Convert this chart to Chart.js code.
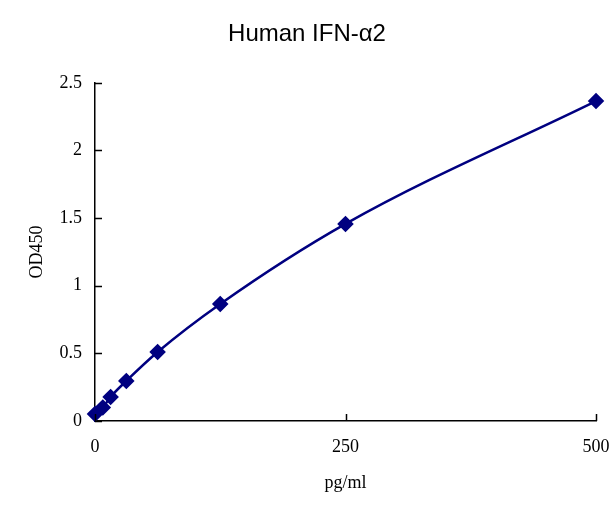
<!DOCTYPE html>
<html>
<head>
<meta charset="utf-8">
<script src="https://cdn.jsdelivr.net/npm/chart.js@4/dist/chart.umd.min.js"></script>
<style>
  html, body { margin: 0; padding: 0; background: #fff; }
  #wrap { width: 614px; height: 520px; position: relative; }
</style>
</head>
<body>
<div id="wrap"><canvas id="chart"></canvas></div>
<script>
"use strict";

/* ---- Data ---- */
const concentrations = [0, 7.8, 15.6, 31.25, 62.5, 125, 250, 500];
const odValues       = [0.052, 0.10, 0.178, 0.296, 0.51, 0.865, 1.457, 2.365];
const xTicks         = [0, 250, 500];
const yTicks         = [0, 0.5, 1, 1.5, 2, 2.5];

const NAVY  = "#000080";
const SERIF = "'Liberation Serif', 'DejaVu Serif', serif";

const points = concentrations.map((x, i) => ({ x, y: odValues[i] }));

/* ticks drawn pointing into the plot area, as in the original figure */
const innerTicks = {
  id: "innerTicks",
  afterDraw(chart) {
    const { ctx, chartArea: a, scales: { x, y } } = chart;
    ctx.save();
    ctx.strokeStyle = "#000";
    ctx.lineWidth = 1.5;
    ctx.beginPath();
    x.ticks.forEach(t => {
      const px = Math.round(x.getPixelForValue(t.value)) + 0.5;
      ctx.moveTo(px, a.bottom);
      ctx.lineTo(px, a.bottom - 7);
    });
    y.ticks.forEach(t => {
      const py = Math.round(y.getPixelForValue(t.value)) + 0.5;
      ctx.moveTo(a.left, py);
      ctx.lineTo(a.left + 7, py);
    });
    ctx.stroke();
    ctx.restore();
  },
};

new Chart(document.getElementById("chart"), {
  type: "scatter",
  data: {
    datasets: [{
      data: points,
      showLine: true,
      borderColor: NAVY,
      backgroundColor: NAVY,
      borderWidth: 2.5,
      cubicInterpolationMode: "monotone",
      pointStyle: "rectRot",
      pointRadius: 6.5,
      pointHoverRadius: 6.5,
      clip: false,
    }],
  },
  options: {
    responsive: true,
    maintainAspectRatio: false,
    animation: false,
    layout: { padding: { left: 0, right: 0, top: 0, bottom: 0 } },
    plugins: {
      legend: { display: false },
      tooltip: { enabled: false },
      title: {
        display: true,
        text: "Human IFN-α2",
        color: "#000",
        font: { family: "'Liberation Sans', Arial, sans-serif", size: 24, weight: "normal" },
        padding: { top: 20, bottom: 34 },
      },
    },
    scales: {
      x: {
        type: "linear",
        min: 0,
        max: 500,
        afterBuildTicks: s => { s.ticks = xTicks.map(v => ({ value: v })); },
        afterFit: s => { s.height = 99; s.paddingRight = 18; },
        grid: { drawOnChartArea: false, drawTicks: false },
        border: { color: "#000", width: 1.5 },
        ticks: { color: "#000", padding: 15, font: { family: SERIF, size: 18 }, callback: v => String(v) },
        title: {
          display: true,
          text: "pg/ml",
          color: "#000",
          font: { family: SERIF, size: 18 },
          padding: { top: 0, bottom: 26 },
        },
      },
      y: {
        type: "linear",
        min: 0,
        max: 2.5,
        afterBuildTicks: s => { s.ticks = yTicks.map(v => ({ value: v })); },
        afterFit: s => { s.width = 95; },
        grid: { drawOnChartArea: false, drawTicks: false },
        border: { color: "#000", width: 1.5 },
        ticks: { color: "#000", padding: 13, font: { family: SERIF, size: 18 }, callback: v => String(v) },
        title: {
          display: true,
          text: "OD450",
          color: "#000",
          font: { family: SERIF, size: 18 },
          padding: { top: 26, bottom: 0 },
        },
      },
    },
  },
  plugins: [innerTicks],
});
</script>
</body>
</html>
